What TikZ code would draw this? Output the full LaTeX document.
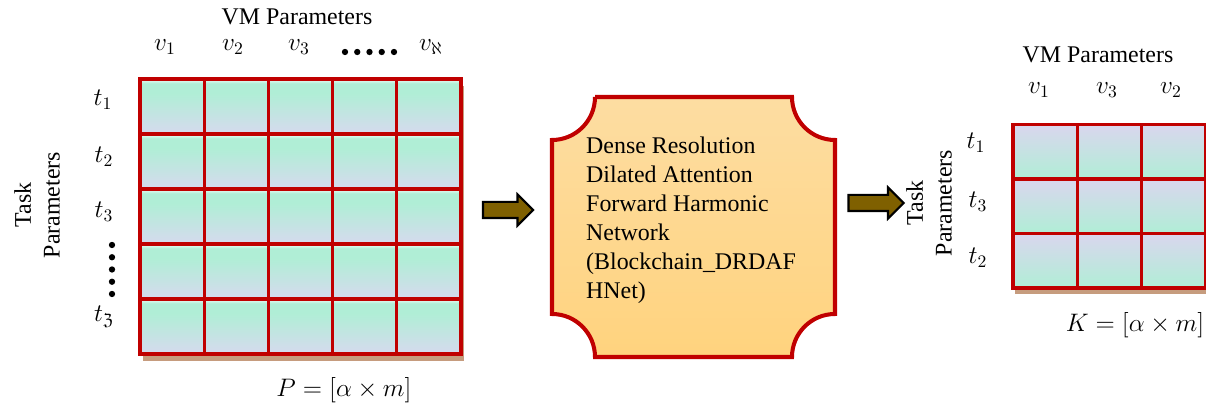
\documentclass[tikz,border=0pt]{standalone}
\usepackage{fontspec}
\setmainfont{Liberation Serif}
\usepackage{amssymb}
\usetikzlibrary{shapes.arrows}

\definecolor{gridred}{RGB}{192,0,0}
\definecolor{shadowbrown}{RGB}{198,156,126}
\definecolor{cellmint}{RGB}{176,238,214}
\definecolor{celllav}{RGB}{214,218,238}
\definecolor{celllavtop}{RGB}{218,214,238}
\definecolor{boxtop}{RGB}{253,221,162}
\definecolor{boxbottom}{RGB}{255,211,126}
\definecolor{arrowbrown}{RGB}{127,96,0}

\pgfdeclareverticalshading{leftcell}{100bp}{color(0bp)=(celllav); color(25bp)=(celllav);
  color(62bp)=(cellmint); color(71bp)=(cellmint); color(75bp)=(white!85!cellmint);
  color(100bp)=(white!85!cellmint)}

\begin{document}
\begin{tikzpicture}[
    every node/.style={font=\fontsize{13.6}{16.4}\selectfont},
    gridline/.style={draw=gridred, line width=1.9pt},
    blockarrow/.style={single arrow, draw=black, fill=arrowbrown, line width=1.2pt,
      minimum height=1cm, minimum width=0.6cm, single arrow head extend=0.15cm,
      inner xsep=0pt, inner ysep=0.14cm},
    dot/.style={fill=black, circle, inner sep=0pt, minimum size=3.6pt}]
  \useasboundingbox (0, 0) rectangle (24.12, 8.12);

  % Input matrix
  \fill [shadowbrown] (2.85, 0.89) rectangle ++(6.42, 5.5);
  \foreach \i in {0,...,4}
    \foreach \j in {0,...,4}
      \shade [shading=leftcell, gridline]
        (2.8 + 1.284*\i, 1.04 + 1.1*\j) rectangle ++(1.284, 1.1);
  \node (vmtitle) at (5.94, 7.78) {VM Parameters};
  \node [anchor=base] (va) at (3.3, 7.1) {$v_1$};
  \node [anchor=base] (vb) at (4.66, 7.1) {$v_2$};
  \node [anchor=base] (vc) at (5.98, 7.1) {$v_3$};
  \node [anchor=base] (vn) at (8.62, 7.1) {$v_\aleph$};
  \foreach \k in {0,...,4}
    \node [dot] (hdot\k) at (6.9 + 0.245*\k, 7.08) {};
  \node (ta) at (2.06, 6.12) {$t_1$};
  \node (tb) at (2.08, 4.98) {$t_2$};
  \node (tc) at (2.08, 3.88) {$t_3$};
  \node (tn) at (2.08, 1.78) {$t_{\mathfrak{Z}}$};
  \foreach \k in {0,...,4}
    \node [dot] (vdot\k) at (2.24, 3.22 - 0.245*\k) {};
  \node [rotate=90, align=center] (tasktitle) at (0.74, 4.02) {Task\\Parameters};
  \node (pmat) at (6.88, 0.32) {$P=[\alpha\times m]$};

  % Network
  \node [blockarrow] (arrowin) at (10.08, 3.92) {};
  \draw [gridred, line width=2.3pt, top color=boxtop, bottom color=boxbottom]
    (11.9, 6.18) -- (15.84, 6.18) arc (180:270:0.86)
    -- (16.7, 1.84) arc (90:180:0.86)
    -- (11.9, 0.98) arc (0:90:0.86)
    -- (11.04, 5.32) arc (270:360:0.86) -- cycle;
  \node [anchor=west, align=left, font=\fontsize{13.6}{16.5}\selectfont] (drdaf) at (11.6, 3.72)
    {Dense Resolution\\Dilated Attention\\Forward Harmonic\\Network\\(Blockchain\_DRDAF\\HNet)};
  \node [blockarrow, minimum height=1.1cm] (arrowout) at (17.44, 4.06) {};

  % Output matrix
  \fill [shadowbrown] (20.3, 2.24) rectangle ++(3.85, 3.27);
  \foreach \i in {0,...,2}
    \foreach \j in {0,...,2}
      \shade [top color=celllavtop, bottom color=cellmint, gridline]
        (20.26 + 1.284*\i, 2.36 + 1.09*\j) rectangle ++(1.284, 1.09);
  \node (vmtitleb) at (21.96, 7.02) {VM Parameters};
  \node (vaa) at (20.78, 6.32) {$v_1$};
  \node (vcc) at (22.14, 6.32) {$v_3$};
  \node (vbb) at (23.42, 6.32) {$v_2$};
  \node (taa) at (19.52, 5.26) {$t_1$};
  \node (tcc) at (19.56, 4.08) {$t_3$};
  \node (tbb) at (19.56, 2.96) {$t_2$};
  \node [rotate=90, align=center] (tasktitleb) at (18.58, 4.06) {Task\\Parameters};
  \node (kmat) at (22.7, 1.62) {$K=[\alpha\times m]$};
\end{tikzpicture}
\end{document}
